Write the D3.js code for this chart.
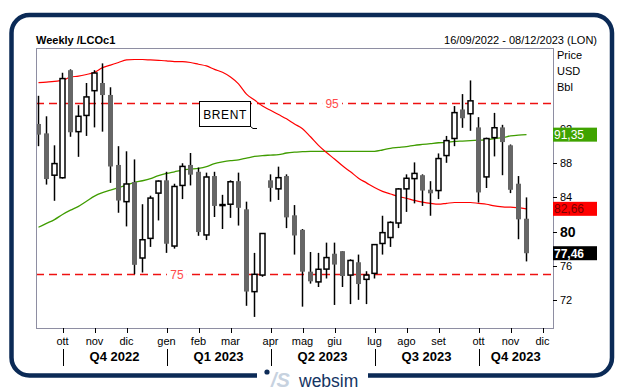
<!DOCTYPE html>
<html>
<head>
<meta charset="utf-8">
<script src="https://cdn.jsdelivr.net/npm/d3@7"></script>
<style>
  body { margin: 0; background: #fff; }
  text { font-family: "Liberation Sans", Arial, sans-serif; }
</style>
</head>
<body>
<script>
//weekly candles, one per friday from 16/09/2022
var openP = [92.6, 91.5, 86.6, 86.3, 98.9, 91.7, 93.6, 96.5, 97.4, 96.0,
  87.8, 83.5, 85.8, 76.9, 79.2, 84.5, 86.0, 78.3, 85.4, 87.8,
  87.0, 79.6, 86.5, 83.1, 83.2, 85.9, 82.6, 72.96, 74.9, 86.0,
  85.0, 86.5, 81.9, 80.2, 75.3, 74.1, 75.6, 77.4, 77.7, 74.9,
  76.4, 74.4, 75.1, 78.6, 79.3, 81.0, 85.0, 86.2, 86.6, 84.9,
  84.8, 88.9, 90.9, 94.3, 93.8, 92.2, 86.4, 91.0, 92.2, 90.1,
  85.6, 81.5];
var highP = [95.9, 93.5, 90.1, 98.6, 99.0, 94.8, 97.4, 98.9, 99.7, 96.9,
  90.0, 89.4, 88.45, 83.2, 84.2, 86.0, 87.0, 85.6, 88.0, 89.2,
  87.5, 86.9, 87.0, 84.3, 86.0, 86.9, 83.5, 77.5, 79.8, 86.7,
  87.6, 86.7, 83.1, 80.3, 77.6, 77.5, 78.7, 78.7, 77.7, 76.75,
  77.3, 75.35, 78.5, 81.85, 81.2, 85.1, 86.7, 88.1, 86.7, 85.9,
  89.15, 91.2, 94.7, 96.1, 97.7, 93.4, 91.0, 93.9, 92.5, 90.2,
  86.5, 84.0];
var lowP = [90.0, 85.5, 83.6, 86.2, 91.1, 88.75, 91.2, 92.2, 91.7, 85.7,
  82.2, 80.6, 75.0, 75.2, 78.2, 81.3, 77.5, 78.0, 83.8, 85.4,
  79.5, 79.0, 81.7, 80.3, 81.6, 80.7, 71.3, 70.0, 74.7, 83.5,
  83.7, 80.4, 77.3, 71.2, 73.9, 73.5, 74.5, 71.4, 73.5, 71.5,
  72.0, 71.5, 74.5, 77.3, 78.2, 80.4, 82.3, 83.3, 83.0, 81.85,
  83.8, 88.05, 90.0, 92.15, 91.8, 83.4, 85.1, 88.8, 86.6, 84.5,
  79.1, 76.5];
var closeP = [91.35, 86.15, 87.96, 97.92, 91.63, 93.5, 95.77, 98.57, 95.99, 87.62,
  83.63, 85.57, 76.10, 79.04, 83.92, 85.91, 78.57, 85.28, 87.63, 86.66,
  79.94, 86.39, 83.0, 83.16, 85.83, 82.78, 72.97, 74.99, 79.77, 85.12,
  86.31, 81.66, 79.54, 75.30, 74.17, 75.58, 76.95, 76.13, 74.79, 76.61,
  73.85, 74.90, 78.47, 79.87, 81.07, 84.99, 86.24, 86.81, 84.80, 84.48,
  88.55, 90.65, 93.93, 93.27, 95.31, 84.58, 90.89, 92.16, 90.48, 84.89,
  81.43, 77.46];
//moving averages (red short, green long)
var maRed = [97.45, 97.5, 97.6, 97.7, 98.1, 98.2, 98.4, 98.65, 99.2, 99.5,
  99.8, 100.1, 100.15, 100.15, 100.1, 100.05, 100.0, 99.9, 99.9, 99.8,
  99.6, 99.4, 99.0, 98.65, 98.1, 97.3, 96.1, 95.4, 94.7, 94.2,
  93.7, 93.2, 92.6, 92.05, 91.1, 90.1, 89.25, 88.5, 87.7, 87.0,
  86.25, 85.7, 85.15, 84.7, 84.4, 84.1, 83.9, 83.65, 83.45, 83.3,
  83.2, 83.3, 83.4, 83.4, 83.4, 83.3, 83.2, 83.0, 82.9, 82.85,
  82.8, 82.66];
var maGreen = [80.5, 80.95, 81.4, 82.0, 82.5, 82.95, 83.55, 84.15, 84.55, 84.85,
  85.15, 85.45, 85.75, 85.95, 86.2, 86.55, 86.8, 87.0, 87.2, 87.3,
  87.4, 87.6, 87.95, 88.15, 88.3, 88.4, 88.6, 88.8, 88.9, 88.95,
  89.0, 89.2, 89.3, 89.35, 89.4, 89.4, 89.4, 89.4, 89.4, 89.4,
  89.4, 89.4, 89.4, 89.55, 89.75, 89.85, 89.95, 90.1, 90.2, 90.3,
  90.4, 90.45, 90.55, 90.6, 90.65, 90.7, 90.75, 90.9, 91.0, 91.2,
  91.3, 91.35];
//price axis ticks and reference levels
var priceTicks = [72, 76, 80, 84, 88, 92];
var levels = [95, 75];
var monthNames = ["gen", "feb", "mar", "apr", "mag", "giu", "lug", "ago", "set", "ott", "nov", "dic"];
//last values shown on the right
var lastLabels = [
  {v: 91.35, text: "91,35", fill: "#3fa300", color: "#ffffff", bold: false},
  {v: 82.66, text: "82,66", fill: "#ff0000", color: "#7a0000", bold: false},
  {v: 77.46, text: "77,46", fill: "#000000", color: "#ffffff", bold: true}
];

//weeks on the axis go to 08/12/2023
var weeks = d3.timeFriday.range(new Date(2022, 8, 16), new Date(2023, 11, 9));

var w = 626, h = 392;
var plotL = 36, plotR = 553, plotT = 48, plotB = 328;

var svg = d3.select("body").append("svg")
  .attr("width", w)
  .attr("height", h);

//outer navy frame
svg.append("rect")
  .attr("x", 11.5).attr("y", 15)
  .attr("width", 600.5).attr("height", 360.5)
  .attr("rx", 18)
  .attr("fill", "none")
  .attr("stroke", "#0b2a56")
  .attr("stroke-width", 4.5);

var x = d3.scaleLinear()
  .domain([0, weeks.length - 1])
  .range([38.5, 38.5 + 8 * (weeks.length - 1)]);
var y = d3.scaleLinear()
  .domain([68.7, 101.5])
  .range([plotB, plotT]);

//header
svg.append("text")
  .attr("x", plotL).attr("y", 44)
  .attr("font-size", 11).attr("font-weight", "bold")
  .text("Weekly /LCOc1");
svg.append("text")
  .attr("x", 597).attr("y", 44)
  .attr("text-anchor", "end")
  .attr("font-size", 11)
  .text("16/09/2022 - 08/12/2023 (LON)");
["Price", "USD", "Bbl"].forEach(function(t, i) {
  svg.append("text")
    .attr("x", 557).attr("y", 59 + i * 15.8)
    .attr("font-size", 11)
    .text(t);
});

//plot box
svg.append("rect")
  .attr("x", plotL + 0.5).attr("y", plotT + 0.5)
  .attr("width", plotR - plotL).attr("height", plotB - plotT)
  .attr("fill", "#fff")
  .attr("stroke", "#8e8ea2");

svg.append("clipPath").attr("id", "plotclip")
  .append("rect")
  .attr("x", plotL + 1).attr("y", plotT + 1)
  .attr("width", plotR - plotL - 1).attr("height", plotB - plotT - 1);

var plot = svg.append("g").attr("clip-path", "url(#plotclip)");

//horizontal levels, dashed
plot.selectAll(".level")
  .data(levels)
  .enter().append("line")
  .attr("class", "level")
  .attr("x1", plotL).attr("x2", plotR)
  .attr("y1", function(d) { return Math.round(y(d)) + 0.5; })
  .attr("y2", function(d) { return Math.round(y(d)) + 0.5; })
  .attr("stroke", "#ee1111")
  .attr("stroke-width", 1.5)
  .attr("stroke-dasharray", "8,5");

//level labels with a gap in the dash
var levelPos = [36.7, 17.3];
levels.forEach(function(v, i) {
  plot.append("rect")
    .attr("x", x(levelPos[i]) - 10).attr("y", y(v) - 6)
    .attr("width", 20).attr("height", 12)
    .attr("fill", "#fff");
  plot.append("text")
    .attr("x", x(levelPos[i])).attr("y", y(v) + 4.5)
    .attr("text-anchor", "middle")
    .attr("font-size", 12)
    .attr("fill", "#ff4a4a")
    .text(v);
});

//moving averages
var lineGen = d3.line()
  .x(function(d, i) { return x(i); })
  .y(function(d) { return y(d); })
  .curve(d3.curveMonotoneX);
plot.append("path")
  .datum(maGreen)
  .attr("d", lineGen)
  .attr("fill", "none")
  .attr("stroke", "#3f9c00")
  .attr("stroke-width", 1.3);
plot.append("path")
  .datum(maRed)
  .attr("d", lineGen)
  .attr("fill", "none")
  .attr("stroke", "#ff0000")
  .attr("stroke-width", 1.2);

//candles
var candles = plot.selectAll(".candle")
  .data(closeP)
  .enter().append("g")
  .attr("class", "candle");
candles.append("line")
  .attr("x1", function(d, i) { return x(i); })
  .attr("x2", function(d, i) { return x(i); })
  .attr("y1", function(d, i) { return y(highP[i]); })
  .attr("y2", function(d, i) { return y(lowP[i]); })
  .attr("stroke", "#000")
  .attr("stroke-width", 1.5);
candles.append("rect")
  .attr("x", function(d, i) { return x(i) - 2.5; })
  .attr("width", 5)
  .attr("y", function(d, i) { return y(Math.max(openP[i], d)); })
  .attr("height", function(d, i) { return Math.max(1, Math.abs(y(openP[i]) - y(d))); })
  .attr("fill", function(d, i) { return d < openP[i] ? "#666666" : "#ffffff"; })
  .attr("stroke", function(d, i) { return d < openP[i] ? "none" : "#000"; })
  .attr("stroke-width", 1.5);

//brent note
svg.append("rect")
  .attr("x", 199.5).attr("y", 101.5)
  .attr("width", 51).attr("height", 25)
  .attr("fill", "#fff")
  .attr("stroke", "#000");
svg.append("text")
  .attr("x", 225).attr("y", 118.5)
  .attr("text-anchor", "middle")
  .attr("font-size", 12)
  .attr("letter-spacing", 0.6)
  .text("BRENT");
svg.append("path")
  .attr("d", "M250.5,126.5 L253,128.5 L257,128.5")
  .attr("fill", "none")
  .attr("stroke", "#000");

//right price axis
var yAxis = svg.append("g");
yAxis.selectAll(".ptick")
  .data(priceTicks)
  .enter().append("line")
  .attr("x1", plotR).attr("x2", plotR + 4)
  .attr("y1", function(d) { return Math.round(y(d)) + 0.5; })
  .attr("y2", function(d) { return Math.round(y(d)) + 0.5; })
  .attr("stroke", "#000");
yAxis.selectAll(".plabel")
  .data(priceTicks)
  .enter().append("text")
  .attr("x", plotR + 7)
  .attr("y", function(d) { return y(d) + (d === 80 ? 5 : 4); })
  .attr("font-size", function(d) { return d === 80 ? 14 : 11; })
  .attr("font-weight", function(d) { return d === 80 ? "bold" : "normal"; })
  .text(function(d) { return d; });

//last value boxes
lastLabels.forEach(function(l) {
  svg.append("rect")
    .attr("x", plotR).attr("y", y(l.v) - 7)
    .attr("width", 44).attr("height", 14)
    .attr("fill", l.fill);
  svg.append("text")
    .attr("x", plotR + 1).attr("y", y(l.v) + 4.5)
    .attr("font-size", 12)
    .attr("font-weight", l.bold ? "bold" : "normal")
    .attr("fill", l.color)
    .text(l.text);
});

//month ticks where the month changes
var monthIdx = [];
weeks.forEach(function(d, i) {
  if (i > 0 && d.getMonth() !== weeks[i - 1].getMonth()) monthIdx.push(i);
});
var xAxis = svg.append("g");
xAxis.selectAll(".mtick")
  .data(monthIdx)
  .enter().append("line")
  .attr("x1", function(d) { return Math.round(x(d)) + 0.5; })
  .attr("x2", function(d) { return Math.round(x(d)) + 0.5; })
  .attr("y1", plotB).attr("y2", plotB + 5)
  .attr("stroke", "#000");
xAxis.selectAll(".mlabel")
  .data(monthIdx)
  .enter().append("text")
  .attr("x", function(d) { return x(d); })
  .attr("y", 345)
  .attr("text-anchor", "middle")
  .attr("font-size", 11)
  .text(function(d) { return monthNames[weeks[d].getMonth()]; });

//quarters
var qIdx = monthIdx.filter(function(d) { return weeks[d].getMonth() % 3 === 0; });
xAxis.selectAll(".qsep")
  .data(qIdx)
  .enter().append("line")
  .attr("x1", function(d) { return Math.round(x(d)) + 0.5; })
  .attr("x2", function(d) { return Math.round(x(d)) + 0.5; })
  .attr("y1", 349).attr("y2", 366)
  .attr("stroke", "#000");
xAxis.selectAll(".qlabel")
  .data(qIdx)
  .enter().append("text")
  .attr("x", function(d, i) {
    var end = i < qIdx.length - 1 ? x(qIdx[i + 1]) : plotR;
    return (x(d) + end) / 2;
  })
  .attr("y", 361)
  .attr("text-anchor", "middle")
  .attr("font-size", 13)
  .attr("font-weight", "bold")
  .text(function(d) {
    return "Q" + (Math.floor(weeks[d].getMonth() / 3) + 1) + " " + weeks[d].getFullYear();
  });

//logo over the bottom of the frame
svg.append("rect")
  .attr("x", 257).attr("y", 370)
  .attr("width", 111).attr("height", 22)
  .attr("fill", "#fff");
svg.append("circle")
  .attr("cx", 267).attr("cy", 372)
  .attr("r", 2.6)
  .attr("fill", "#0e2c57");
svg.append("text")
  .attr("x", 271).attr("y", 387)
  .attr("font-size", 20)
  .attr("font-weight", "bold")
  .attr("font-style", "italic")
  .attr("fill", "#c7d2df")
  .text("/S");
svg.append("text")
  .attr("x", 299).attr("y", 387)
  .attr("font-size", 17.5)
  .attr("fill", "#143463")
  .text("websim");
</script>
</body>
</html>
